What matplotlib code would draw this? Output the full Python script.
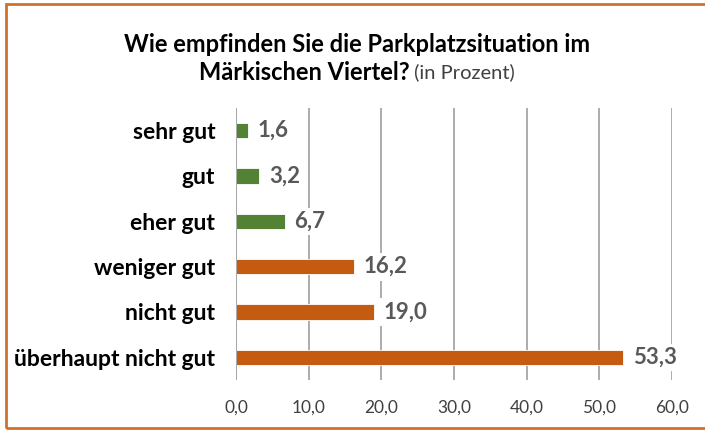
import matplotlib.pyplot as plt
from matplotlib.patches import Rectangle

plt.rcParams['font.family'] = ['Lato', 'DejaVu Sans']

# Daten
kategorien = ['sehr gut', 'gut', 'eher gut', 'weniger gut', 'nicht gut', 'überhaupt nicht gut']
werte = [1.6, 3.2, 6.7, 16.2, 19.0, 53.3]
farben = ['#548235', '#548235', '#548235', '#C55A11', '#C55A11', '#C55A11']
xticks = [0, 10, 20, 30, 40, 50, 60]

fig = plt.figure(figsize=(7.05, 4.3), dpi=100)
ax = fig.add_axes([236 / 705, 1 - 380 / 430, 436 / 705, 272 / 430])

pos = list(range(len(kategorien)))
ax.barh(pos, werte, height=0.34, color=farben, edgecolor='white', linewidth=0.6, zorder=3)
ax.set_ylim(len(kategorien) - 0.5, -0.5)
ax.set_xlim(0, 60)

ax.set_xticks(xticks)
ax.set_xticklabels([f'{t:.1f}'.replace('.', ',') for t in xticks], fontsize=12.5, color='#404040')
ax.set_yticks(pos)
ax.set_yticklabels(kategorien, fontsize=16.5, fontweight='bold', color='black')
ax.tick_params(axis='y', length=0, pad=15)
ax.tick_params(axis='x', length=0, pad=14)

ax.grid(axis='x', color='#A6A6A6', linewidth=1.3, zorder=0)
for s in ax.spines.values():
    s.set_visible(False)
ax.axvline(0, color='#A6A6A6', linewidth=1.3, zorder=4)

for p, w in zip(pos, werte):
    ax.annotate(f'{w:.1f}'.replace('.', ','), (w, p), xytext=(7, 0), textcoords='offset points',
                va='center', ha='left', fontsize=16, fontweight='bold', color='#595959', zorder=5,
                bbox=dict(boxstyle='square,pad=0.15', fc='white', ec='none'))

# Titel
fig.text(357 / 705, 1 - 45 / 430, 'Wie empfinden Sie die Parkplatzsituation im',
         ha='center', va='center', fontsize=17, fontweight='bold', color='black')
r = fig.canvas.get_renderer()
t1 = fig.text(0, 1 - 72 / 430, 'Märkischen Viertel?', ha='left', va='center',
              fontsize=17, fontweight='bold', color='black')
t2 = fig.text(0, 1 - 72 / 430, ' (in Prozent)', ha='left', va='center',
              fontsize=14.5, color='#404040')
w1 = t1.get_window_extent(r).width
w2 = t2.get_window_extent(r).width
start = 357 - (w1 + w2) / 2
t1.set_x(start / 705)
t2.set_x((start + w1) / 705)

# Rahmen
fig.patches.append(Rectangle((6 / 705, 2 / 430), 1.0, 424 / 430, transform=fig.transFigure,
                             fill=False, edgecolor='#D0702A', linewidth=2))

fig.savefig('out.png', dpi=100)
